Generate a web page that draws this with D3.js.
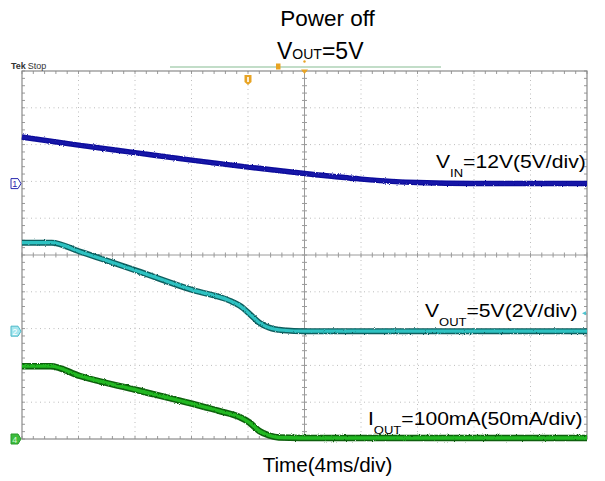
<!DOCTYPE html>
<html>
<head>
<meta charset="utf-8">
<script src="https://cdn.jsdelivr.net/npm/d3@7"></script>
<style>
  body { margin: 0; background: #fff; }
  svg { display: block; font-family: "Liberation Sans", Arial, sans-serif; }
</style>
</head>
<body>
<script>
const width = 605, height = 481;
const plot = {x0: 22, x1: 587, y0: 71, y1: 439};

// scope settings: 4 ms/div, 10 x 10 divisions
const timeDomain = [-20, 20];
const divCount = 10;
const vinPerDiv = 5, voutPerDiv = 2, ioutPerDiv = 50;
// ground markers, in divisions from the bottom edge
const vinGround = 6.94, voutGround = 2.93, ioutGround = 0;

// CH1 - VIN (V)
const vinTime  = [-20, -16, -12, -8, -4, 0, 4, 8, 12, 20];
const vinVolts = [6.32, 5.23, 4.21, 3.19, 2.24, 1.36, 0.61, 0.14, 0, 0];

// CH2 - VOUT (V)
const voutTime  = [-20, -17.9, -15.9, -11.9, -7.9, -5.3, -4.6, -3.9, -3.2, -2.5, -1.5, 0, 20];
const voutVolts = [4.81, 4.81, 4.32, 3.29, 2.23, 1.66, 1.39, 0.95, 0.46, 0.19, 0.05, 0, 0];

// CH4 - IOUT (mA)
const ioutTime = [-20, -18, -15.9, -11.9, -7.9, -6, -4.6, -3.9, -3.2, -2.5, -1.8, -0.3, 20];
const ioutMa   = [99, 99, 85.6, 66.6, 47.6, 38, 29.9, 22.4, 10.9, 4.8, 2, 1.4, 1.4];

const svg = d3.select("body").append("svg")
    .attr("width", width)
    .attr("height", height);

svg.append("rect").attr("width", width).attr("height", height).attr("fill", "#fff");

const x = d3.scaleLinear().domain(timeDomain).range([plot.x0, plot.x1]);
const y = d3.scaleLinear().domain([0, divCount]).range([plot.y1, plot.y0]);
const xDiv = d3.scaleLinear().domain([0, divCount]).range([plot.x0, plot.x1]);

// noisy look of the traces
const defs = svg.append("defs");
const flt = defs.append("filter").attr("id", "noise")
    .attr("x", "-5%").attr("y", "-20%").attr("width", "110%").attr("height", "140%");
flt.append("feTurbulence").attr("type", "fractalNoise").attr("baseFrequency", "0.9")
    .attr("numOctaves", 1).attr("seed", 4).attr("result", "t");
flt.append("feDisplacementMap").attr("in", "SourceGraphic").attr("in2", "t")
    .attr("scale", 2.6).attr("xChannelSelector", "R").attr("yChannelSelector", "G");

// grid
const grid = svg.append("g");
const majors = d3.range(1, divCount).filter(d => d != 5);

grid.selectAll("line.v").data(majors).enter().append("line")
    .attr("x1", d => xDiv(d)).attr("x2", d => xDiv(d))
    .attr("y1", plot.y0).attr("y2", plot.y1)
    .attr("stroke", "#bdbdbd").attr("stroke-width", 1)
    .attr("stroke-dasharray", "1,3.5");

grid.selectAll("line.h").data(majors).enter().append("line")
    .attr("y1", d => y(d)).attr("y2", d => y(d))
    .attr("x1", plot.x0).attr("x2", plot.x1)
    .attr("stroke", "#bdbdbd").attr("stroke-width", 1)
    .attr("stroke-dasharray", "1,3.5");

// centre cross
const cx = xDiv(5), cy = y(5);
grid.append("line").attr("x1", cx).attr("x2", cx).attr("y1", plot.y0).attr("y2", plot.y1)
    .attr("stroke", "#9a9a9a");
grid.append("line").attr("y1", cy).attr("y2", cy).attr("x1", plot.x0).attr("x2", plot.x1)
    .attr("stroke", "#9a9a9a");

const minors = d3.range(0, divCount * 5 + 1).map(d => d / 5);
grid.selectAll("line.tx").data(minors).enter().append("line")
    .attr("x1", d => xDiv(d)).attr("x2", d => xDiv(d))
    .attr("y1", cy - 2.5).attr("y2", cy + 2.5).attr("stroke", "#9a9a9a");
grid.selectAll("line.ty").data(minors).enter().append("line")
    .attr("y1", d => y(d)).attr("y2", d => y(d))
    .attr("x1", cx - 2.5).attr("x2", cx + 2.5).attr("stroke", "#9a9a9a");
// edge ticks
grid.selectAll("line.et").data(minors).enter().append("line")
    .attr("x1", d => xDiv(d)).attr("x2", d => xDiv(d))
    .attr("y1", plot.y0).attr("y2", plot.y0 + 3).attr("stroke", "#9a9a9a");
grid.selectAll("line.eb").data(minors).enter().append("line")
    .attr("x1", d => xDiv(d)).attr("x2", d => xDiv(d))
    .attr("y1", plot.y1 - 3).attr("y2", plot.y1).attr("stroke", "#9a9a9a");
grid.selectAll("line.el").data(minors).enter().append("line")
    .attr("y1", d => y(d)).attr("y2", d => y(d))
    .attr("x1", plot.x0).attr("x2", plot.x0 + 3).attr("stroke", "#9a9a9a");
grid.selectAll("line.er").data(minors).enter().append("line")
    .attr("y1", d => y(d)).attr("y2", d => y(d))
    .attr("x1", plot.x1 - 3).attr("x2", plot.x1).attr("stroke", "#9a9a9a");

// frame
grid.append("rect").attr("x", plot.x0).attr("y", plot.y0)
    .attr("width", plot.x1 - plot.x0).attr("height", plot.y1 - plot.y0)
    .attr("fill", "none").attr("stroke", "#8a8a8a").attr("stroke-width", 1.2);

// traces
function trace(times, vals, perDiv, ground, edge, core, wOuter, wInner) {
    const pts = times.map((t, i) => [t, vals[i]]);
    const line = d3.line()
        .x(d => x(d[0]))
        .y(d => y(ground + d[1] / perDiv))
        .curve(d3.curveMonotoneX);
    const g = svg.append("g").attr("filter", "url(#noise)");
    g.append("path").attr("d", line(pts)).attr("fill", "none")
        .attr("stroke", edge).attr("stroke-width", wOuter).attr("stroke-linejoin", "round");
    if (core) {
        g.append("path").attr("d", line(pts)).attr("fill", "none")
            .attr("stroke", core).attr("stroke-width", wInner).attr("stroke-linejoin", "round");
    }
}

trace(vinTime, vinVolts, vinPerDiv, vinGround, "#0b0b9a", "#1616a8", 5.5, 3);
trace(voutTime, voutVolts, voutPerDiv, voutGround, "#0f5f5f", "#2ec2c2", 6, 3.2);
trace(ioutTime, ioutMa, ioutPerDiv, ioutGround, "#0a600a", "#22b822", 6.5, 3.4);

// channel ground markers on the left
function marker(ground, label, fill, stroke, txt) {
    const yy = y(ground);
    const g = svg.append("g").attr("transform", `translate(${plot.x0 - 11},${yy})`);
    g.append("path").attr("d", "M0,-5 L7,-5 L10,0 L7,5 L0,5 Z")
        .attr("fill", fill).attr("stroke", stroke).attr("stroke-width", 1);
    g.append("text").attr("x", 3.8).attr("y", 3.5).attr("text-anchor", "middle")
        .attr("font-size", 9).attr("fill", txt).text(label);
}
marker(vinGround, "1", "#fff", "#2a2ab0", "#2a2ab0");
marker(voutGround, "2", "#a6e6ee", "#4cb8c8", "#fff");
marker(ioutGround, "4", "#3cbc3c", "#2a9a2a", "#d8f8d8");

// cyan arrow at right edge
svg.append("path")
    .attr("d", `M${plot.x1 - 5},${y(3.42)} L${plot.x1 - 1},${y(3.42) - 2} L${plot.x1 - 1},${y(3.42) + 2} Z`)
    .attr("fill", "#4cc4d0");

// top status bar
svg.append("line").attr("x1", 170).attr("x2", 441).attr("y1", 67).attr("y2", 67)
    .attr("stroke", "#86bc92").attr("stroke-width", 1.2);
svg.append("text").attr("x", 11).attr("y", 69).attr("font-size", 9)
    .attr("fill", "#333")
    .call(t => t.append("tspan").attr("font-weight", "bold").text("Tek"))
    .call(t => t.append("tspan").attr("dx", 2).text("Stop"));

const orange = "#e8a424";
svg.append("rect").attr("x", 276).attr("y", 63.5).attr("width", 4.5).attr("height", 6)
    .attr("fill", orange);
svg.append("circle").attr("cx", cx).attr("cy", 61.5).attr("r", 1.2).attr("fill", orange);
svg.append("path").attr("d", `M${cx - 3.5},${plot.y0 - 1.5} L${cx + 3.5},${plot.y0 - 1.5} L${cx},${plot.y0 + 3}Z`)
    .attr("fill", orange);
svg.append("path").attr("d", "M244.5,75 L251.5,75 L251.5,82 L248,85 L244.5,82 Z")
    .attr("fill", orange);
svg.append("rect").attr("x", 247.2).attr("y", 77).attr("width", 1.6).attr("height", 5).attr("fill", "#fff");

// titles
svg.append("text").attr("x", 327.5).attr("y", 26).attr("text-anchor", "middle")
    .attr("font-size", 22.5).attr("fill", "#000").text("Power off");
svg.append("text").attr("x", 277).attr("y", 58.5).attr("fill", "#000")
    .call(t => t.append("tspan").attr("font-size", 23).text("V"))
    .call(t => t.append("tspan").attr("font-size", 14).text("OUT"))
    .call(t => t.append("tspan").attr("font-size", 23).text("=5V"));

svg.append("text").attr("x", 327.5).attr("y", 472).attr("text-anchor", "middle")
    .attr("font-size", 20.6).attr("fill", "#000").text("Time(4ms/div)");

// trace labels (slightly wide scope font)
function label(x0, base, main, sub, rest) {
    const t = svg.append("text")
        .attr("transform", `translate(${x0},${base}) scale(1.13,1)`)
        .attr("font-size", 18.7).attr("fill", "#000");
    t.append("tspan").text(main);
    t.append("tspan").attr("font-size", 11.5).attr("dy", 9).text(sub);
    t.append("tspan").attr("dy", -9).text(rest);
}
label(436, 168, "V", "IN", "=12V(5V/div)");
label(425, 317, "V", "OUT", "=5V(2V/div)");
label(368, 425, "I", "OUT", "=100mA(50mA/div)");
</script>
</body>
</html>
